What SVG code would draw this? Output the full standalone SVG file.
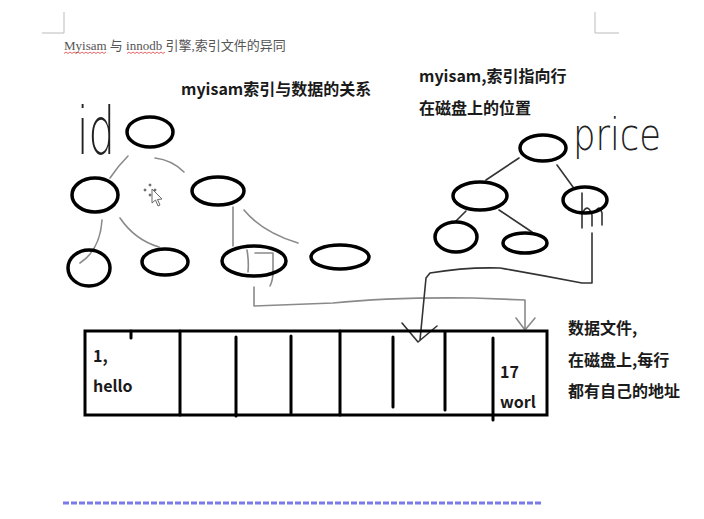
<svg xmlns="http://www.w3.org/2000/svg" width="704" height="519" viewBox="0 0 704 519">
<style>
.node{fill:none;stroke:#000;stroke-width:3.5}
.cl{fill:none;stroke:#8a8a8a;stroke-width:1.6;stroke-linecap:round;stroke-linejoin:round}
.cd{fill:none;stroke:#333;stroke-width:1.6;stroke-linecap:round;stroke-linejoin:round}
.cell{stroke:#000;stroke-width:3;stroke-linecap:round}
.h{font-family:"Noto Sans CJK SC","Noto Sans",sans-serif;font-weight:bold;font-size:16px;fill:#1a1a1a}
.hand{font-family:"DejaVu Sans",sans-serif;font-weight:200;fill:#222}
.corner{fill:none;stroke:#bbb;stroke-width:1}
</style>
<rect width="704" height="519" fill="#fff"/>
<path class="corner" d="M64 12V33H42M595 12V33H619"/>
<text x="64" y="50" font-family="Liberation Serif,'Noto Sans CJK SC',serif" font-size="13" fill="#555">Myisam 与 innodb 引擎,索引文件的异同</text>
<path d="M64 53.5l2 -1.5 2 1.5 2 -1.5 2 1.5 2 -1.5 2 1.5 2 -1.5 2 1.5 2 -1.5 2 1.5 2 -1.5 2 1.5 2 -1.5 2 1.5 2 -1.5 2 1.5 2 -1.5 2 1.5 2 -1.5 2 1.5 2 -1.5 M127 53.5l2 -1.5 2 1.5 2 -1.5 2 1.5 2 -1.5 2 1.5 2 -1.5 2 1.5 2 -1.5 2 1.5 2 -1.5 2 1.5 2 -1.5 2 1.5 2 -1.5 2 1.5 2 -1.5 2 1.5 2 -1.5" fill="none" stroke="#e04040" stroke-width="0.8"/>
<text class="h" x="181" y="95">myisam索引与数据的关系</text>
<text class="h" x="419" y="82">myisam,索引指向行</text>
<text class="h" x="419" y="114">在磁盘上的位置</text>
<text class="hand" x="77" y="154" font-size="66" textLength="38" lengthAdjust="spacingAndGlyphs">id</text>
<text class="hand" x="573" y="150" font-size="44" textLength="88" lengthAdjust="spacingAndGlyphs">price</text>
<g id="connectors">
<path class="cl" d="M128 156Q118 166 110 178"/>
<path class="cl" d="M155 158Q172 160 184 172"/>
<path class="cl" d="M102 220Q100 250 80 263"/>
<path class="cl" d="M120 218Q135 240 159 247"/>
<path class="cl" d="M233 207V246"/>
<path class="cl" d="M244 210Q262 232 298 243"/>
<path class="cl" d="M247 250Q249 262 248 272M255 253H273V272Q273 280 270 286"/>
<path class="cl" d="M254 287V306L333 303Q390 297 473 298L525 300V329M516 318L525 330L535 318"/>
<path class="cd" d="M519 158L486 180"/>
<path class="cd" d="M557 165L573 187"/>
<path class="cd" d="M466 211L455 222"/>
<path class="cd" d="M499 210L532 232"/>
<path class="cd" d="M582 193V228M583 212Q588 203 592 215V226M596 211Q599 204 602 213V225"/>
<path class="cd" d="M592 233V283H582Q540 275 500 268Q465 267 430 273L426 278L420 340M402 323L418 342L437 326"/>
</g>
<g id="cursor" fill="#fff" stroke="#666" stroke-width="1">
<path d="M152 189L152 203L155.5 200L158 206L160 205L157.5 199.5L162 199Z"/>
<circle cx="150" cy="185" r="1" fill="#666"/><circle cx="145" cy="190" r="1" fill="#666"/><circle cx="155" cy="190" r="1" fill="#666"/><circle cx="150" cy="195" r="1" fill="#666"/>
</g>
<g id="left-root"><ellipse class="node" cx="150" cy="132" rx="23" ry="15"/></g>
<g id="left-l2a"><ellipse class="node" cx="95" cy="195" rx="23" ry="17"/></g>
<g id="left-l2b"><ellipse class="node" cx="218" cy="191" rx="26" ry="14"/></g>
<g id="left-l3a"><ellipse class="node" cx="89" cy="268" rx="21" ry="18"/></g>
<g id="left-l3b"><ellipse class="node" cx="165" cy="262" rx="23" ry="13"/></g>
<g id="left-l3c"><ellipse class="node" cx="254" cy="261" rx="32" ry="15"/></g>
<g id="left-l3d"><ellipse class="node" cx="340" cy="257" rx="29" ry="12"/></g>
<g id="right-root"><ellipse class="node" cx="543" cy="148" rx="23" ry="13"/></g>
<g id="right-l2a"><ellipse class="node" cx="480" cy="196" rx="27" ry="14"/></g>
<g id="right-l2b"><ellipse class="node" cx="585" cy="200" rx="22" ry="13"/></g>
<g id="right-l3a"><ellipse class="node" cx="456" cy="237" rx="21" ry="15"/></g>
<g id="right-l3b"><ellipse class="node" cx="525" cy="243" rx="22" ry="10"/></g>
<g id="datafile">
<rect x="85" y="331" width="462" height="84" fill="none" stroke="#000" stroke-width="3"/>
<path class="cell" d="M131 331V338M180 331V415M236 337V416M291 336V413M340 331V415M393 337V407M445 332V410M493 338V420"/>
<text class="h" x="93" y="362">1,</text>
<text class="h" x="93" y="392">hello</text>
<text class="h" x="500" y="378">17</text>
<text class="h" x="500" y="408">worl</text>
</g>
<g id="datafile-note">
<text class="h" x="568" y="334">数据文件,</text>
<text class="h" x="568" y="366">在磁盘上,每行</text>
<text class="h" x="568" y="397">都有自己的地址</text>
</g>
<line x1="63" y1="503" x2="541" y2="503" stroke="#7b7be8" stroke-width="3" stroke-dasharray="6 2"/>
</svg>
